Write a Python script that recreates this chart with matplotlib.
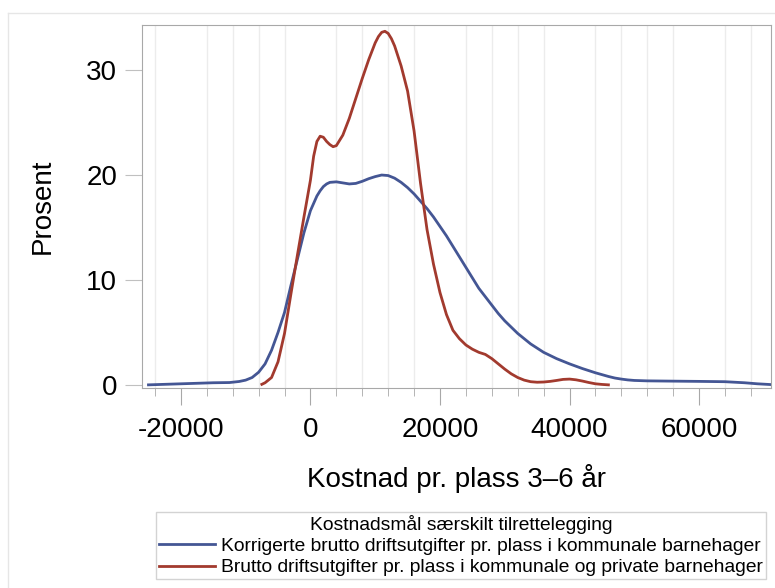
import matplotlib.pyplot as plt
from matplotlib.lines import Line2D
from matplotlib.ticker import MultipleLocator

# Kostnad pr. plass (kr) og tetthet i prosent, lest av figuren
blue_x = [-25000, -20000, -15000, -12500, -11000, -10000, -9000, -8000, -7000, -6000,
          -5000, -4000, -3000, -2000, -1000, 0, 1000, 1500, 2000, 2500, 3000, 4000,
          5000, 6000, 7000, 8000, 9000, 10000, 11000, 12000, 13000, 14000,
          15000, 16000, 17000, 18000, 19000, 20000, 21000, 22000, 23000, 24000,
          25000, 26000, 27000, 28000, 29000, 30000, 32000, 34000, 36000, 38000, 40000,
          42000, 44000, 46000, 47000, 48000, 49000, 50000, 52000, 55000, 60000, 64000, 67000,
          69000, 71000]
blue_y = [0.0, 0.1, 0.2, 0.22, 0.32, 0.45, 0.7, 1.2, 2.0, 3.3,
          5.0, 6.9, 9.5, 12.0, 14.5, 16.6, 18.0, 18.5, 18.9, 19.15, 19.3, 19.35,
          19.25, 19.15, 19.2, 19.4, 19.65, 19.85, 20.0, 19.95, 19.7, 19.3,
          18.8, 18.2, 17.5, 16.8, 16.0, 15.1, 14.2, 13.2, 12.2, 11.2,
          10.2, 9.2, 8.4, 7.6, 6.8, 6.1, 4.9, 3.9, 3.1, 2.5, 2.0,
          1.55, 1.15, 0.8, 0.65, 0.55, 0.47, 0.42, 0.38, 0.36, 0.33, 0.3, 0.2,
          0.1, 0.03]

red_x = [-7500, -7000, -6000, -5000, -4000, -3000, -2000, -1000, 0, 500,
         1000, 1500, 2000, 2500, 3000, 3500, 4000, 5000, 6000, 7000,
         8000, 9000, 10000, 10500, 11000, 11500, 12000, 12500, 13000, 14000, 15000, 16000,
         17000, 18000, 19000, 20000, 21000, 22000, 23000, 24000, 25000, 26000,
         27000, 28000, 29000, 30000, 31000, 32000, 33000, 34000, 35000, 36000,
         37000, 38000, 39000, 40000, 41000, 42000, 43000, 44000, 45000, 46000]
red_y = [0.05, 0.2, 0.7, 2.2, 4.9, 8.7, 12.4, 16.0, 19.5, 21.8,
         23.2, 23.7, 23.6, 23.2, 22.9, 22.7, 22.8, 23.8, 25.4, 27.3,
         29.2, 31.0, 32.6, 33.2, 33.6, 33.7, 33.5, 33.0, 32.3, 30.4, 28.0, 24.2,
         19.2, 14.8, 11.5, 8.8, 6.7, 5.2, 4.4, 3.8, 3.4, 3.1,
         2.9, 2.5, 2.0, 1.5, 1.05, 0.7, 0.45, 0.3, 0.25, 0.27,
         0.33, 0.42, 0.52, 0.55, 0.48, 0.36, 0.22, 0.1, 0.04, 0.0]

blue_label = "Korrigerte brutto driftsutgifter pr. plass i kommunale barnehager"
red_label = "Brutto driftsutgifter pr. plass i kommunale og private barnehager"
legend_title = "Kostnadsmål særskilt tilrettelegging"

plt.rcParams['font.family'] = ['Liberation Sans', 'DejaVu Sans']
plt.rcParams['axes.unicode_minus'] = False

fig = plt.figure(figsize=(7.75, 5.88), dpi=100)
ax = fig.add_axes([142/775, 1 - 388/588, (771 - 142)/775, (388 - 25)/588])

ax.plot(blue_x, blue_y, color="#445694", lw=2, label=blue_label)
ax.plot(red_x, red_y, color="#A23A2E", lw=2, label=red_label)

ax.set_xlim(-26000, 71100)
ax.set_ylim(-0.3, 34.3)
ax.xaxis.set_major_locator(MultipleLocator(20000))
ax.xaxis.set_minor_locator(MultipleLocator(4000))
ax.set_yticks([0, 10, 20, 30])
ax.grid(True, which="minor", axis="x", color="#ececec", lw=1)
ax.set_axisbelow(True)

for s in ax.spines.values():
    s.set_color("#a8a8a8")
ax.tick_params(axis="x", which="major", length=12, color="#a8a8a8", labelsize=20, pad=9)
ax.tick_params(axis="x", which="minor", length=6, color="#a8a8a8")
ax.tick_params(axis="y", length=12, color="#c0c0c0", labelsize=20, pad=6)

ax.set_xlabel("Kostnad pr. plass 3–6 år", fontsize=20, labelpad=15)
ax.set_ylabel("Prosent", fontsize=20, labelpad=22)

leg = fig.legend(loc="center", bbox_to_anchor=(461/775, 1 - 545.5/588),
                 title=legend_title, fontsize=13.9, title_fontsize=13.9,
                 frameon=True, fancybox=False, edgecolor="#c8c8c8",
                 handlelength=2.9, handletextpad=0.3, labelspacing=0.2,
                 borderpad=0.15, borderaxespad=0)
leg.get_frame().set_linewidth(1)

# svak ramme rundt hele grafikken
fig.add_artist(Line2D([8/775, 1], [1 - 13/588, 1 - 13/588], color="#e6e6e6", lw=1))
fig.add_artist(Line2D([8/775, 8/775], [0, 1 - 13/588], color="#e6e6e6", lw=1))

fig.savefig("out.png", dpi=100)
